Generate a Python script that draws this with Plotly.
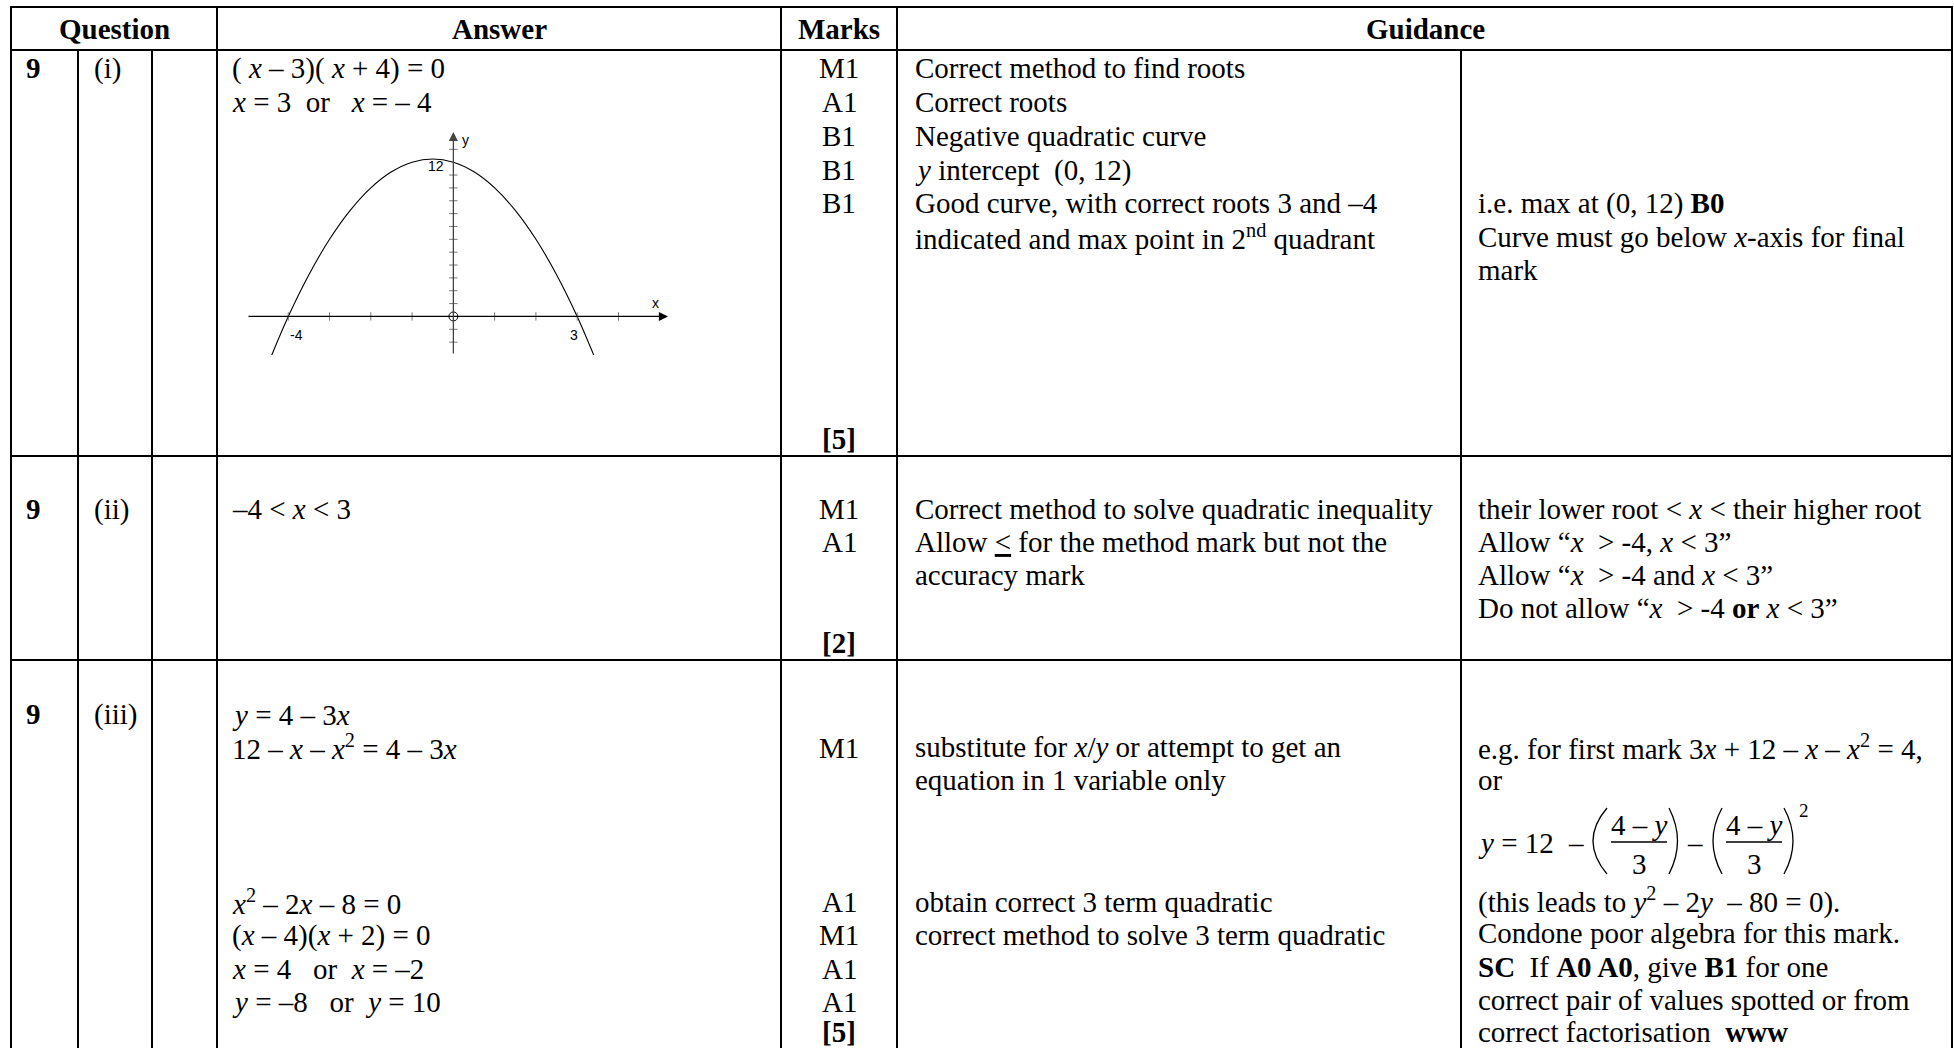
import plotly.graph_objects as go

W, H = 1954, 1048
SERIF = "Liberation Serif, Times New Roman, serif"
SANS = "Liberation Sans, Arial, sans-serif"
FS = 29

# ---- data: the sketch of y = 12 - x - x^2
curve_x = [-4.4, -4, -3.5, -3, -2.5, -2, -1.5, -1, -0.5, 0, 0.5, 1, 1.5, 2, 2.5, 3, 3.4]
curve_y = [-3, 0, 3.25, 6, 8.25, 10, 11.25, 12, 12.25, 12, 11.25, 10, 8.25, 6, 3.25, 0, -3]
x_ticks = [-4, -3, -2, -1, 1, 2, 3, 4]
y_ticks = [-2, -1, 1, 2, 3, 4, 5, 6, 7, 8, 9, 10, 11, 13]
x_range = [-5.0, 5.2]
y_range = [-3.0, 14.35]

# ---- data: table text
headers = ["Question", "Answer", "Marks", "Guidance"]
question = ["9", "9", "9"]
parts = ["(i)", "(ii)", "(iii)"]
totals = ["[5]", "[2]", "[5]"]

answer_1 = ["( <i>x</i> – 3)( <i>x</i> + 4) = 0",
            "<i>x</i> = 3 \u00a0or \u00a0 <i>x</i> = – 4"]
marks_1 = ["M1", "A1", "B1", "B1", "B1"]
guide_1 = ["Correct method to find roots",
           "Correct roots",
           "Negative quadratic curve",
           "<i>y</i> intercept \u00a0(0, 12)",
           "Good curve, with correct roots 3 and –4",
           "indicated and max point in 2<sup>nd</sup> quadrant"]
note_1 = ["i.e. max at (0, 12) <b>B0</b>",
          "Curve must go below <i>x</i>-axis for final",
          "mark"]

answer_2 = ["–4 &lt; <i>x</i> &lt; 3"]
marks_2 = ["M1", "A1"]
guide_2 = ["Correct method to solve quadratic inequality",
           "Allow <u>&lt;</u> for the method mark but not the",
           "accuracy mark"]
note_2 = ["their lower root &lt; <i>x</i> &lt; their higher root",
          "Allow “<i>x</i> \u00a0&gt; -4, <i>x</i> &lt; 3”",
          "Allow “<i>x</i> \u00a0&gt; -4 and <i>x</i> &lt; 3”",
          "Do not allow “<i>x</i> \u00a0&gt; -4 <b>or</b> <i>x</i> &lt; 3”"]

answer_3 = ["<i>y</i> = 4 – 3<i>x</i>",
            "12 – <i>x</i> – <i>x</i><sup>2</sup> = 4 – 3<i>x</i>",
            "<i>x</i><sup>2</sup> – 2<i>x</i> – 8 = 0",
            "(<i>x</i> – 4)(<i>x</i> + 2) = 0",
            "<i>x</i> = 4 \u00a0 or \u00a0<i>x</i> = –2",
            "<i>y</i> = –8 \u00a0 or \u00a0<i>y</i> = 10"]
marks_3 = ["M1", "A1", "M1", "A1", "A1"]
guide_3 = ["substitute for <i>x</i>/<i>y</i> or attempt to get an",
           "equation in 1 variable only",
           "obtain correct 3 term quadratic",
           "correct method to solve 3 term quadratic"]
note_3 = ["e.g. for first mark 3<i>x</i> + 12 – <i>x</i> – <i>x</i><sup>2</sup> = 4,",
          "or",
          "(this leads to <i>y</i><sup>2</sup> – 2<i>y</i> \u00a0– 80 = 0).",
          "Condone poor algebra for this mark.",
          "<b>SC</b> \u00a0If <b>A0 A0</b>, give <b>B1</b> for one",
          "correct pair of values spotted or from",
          "correct factorisation \u00a0<b>www</b>"]
frac_lead = "<i>y</i> = 12"
frac_num = "4 – <i>y</i>"
frac_den = "3"

# ---- layout positions (pixels in the page)
col_lines = [11, 78, 152, 217, 781, 897, 1461, 1952]
row_lines = [7, 50, 456, 660]
x_q, x_part, x_ans, x_marks, x_guide, x_note = 24, 92, 230, 839, 913, 1476
dx = 14  # shift of the bracketed fraction group

fig = go.Figure()

# the little graph in the Answer cell
fig.add_trace(go.Scatter(x=curve_x, y=curve_y, mode="lines", line_shape="spline",
                         line=dict(color="black", width=1.1), xaxis="x", yaxis="y",
                         hoverinfo="skip"))
fig.add_trace(go.Scatter(x=x_ticks, y=[0] * len(x_ticks), mode="markers",
                         marker=dict(symbol="line-ns-open", size=6, color="#777",
                                     line=dict(color="#777", width=1)),
                         xaxis="x", yaxis="y", hoverinfo="skip"))
fig.add_trace(go.Scatter(x=[0] * len(y_ticks), y=y_ticks, mode="markers",
                         marker=dict(symbol="line-ew-open", size=6, color="#777",
                                     line=dict(color="#777", width=1)),
                         xaxis="x", yaxis="y", hoverinfo="skip"))
fig.add_trace(go.Scatter(x=[0], y=[0], mode="markers",
                         marker=dict(symbol="circle-open", size=9, color="black", line=dict(width=1)),
                         xaxis="x", yaxis="y", hoverinfo="skip"))
# dummy trace so the pixel axes exist
fig.add_trace(go.Scatter(x=[0, W], y=[0, H], mode="markers", marker=dict(opacity=0),
                         xaxis="x2", yaxis="y2", hoverinfo="skip"))

ann = []


def txt(x, y, s, anchor="left", size=FS, family=SERIF):
    ann.append(dict(x=x, y=y, xref="x2", yref="y2", text=s, showarrow=False,
                    xanchor=anchor, yanchor="middle",
                    font=dict(family=family, size=size, color="black")))


def lines(x, ys, items, anchor="left"):
    for y, s in zip(ys, items):
        txt(x, y, s, anchor)


# header
for cx, h in zip([114, 499, 839, 1425], headers):
    txt(cx, 29, "<b>" + h + "</b>", "center")

row_y = [68, 509, 714]
for y, q, p in zip(row_y, question, parts):
    txt(x_q, y, "<b>" + q + "</b>")
    txt(x_part, y, p)

# row (i)
lines(x_ans, [68, 102], answer_1)
lines(x_marks, [68, 102, 136, 170, 203], marks_1, "center")
lines(x_guide, [68, 102, 136, 170, 203, 237], guide_1)
lines(x_note, [203, 237, 270], note_1)
# row (ii)
lines(x_ans, [509], answer_2)
lines(x_marks, [509, 542], marks_2, "center")
lines(x_guide, [509, 542, 575], guide_2)
lines(x_note, [509, 542, 575, 608], note_2)
# row (iii)
lines(x_ans, [715, 747, 902, 935, 969, 1002], answer_3)
lines(x_marks, [748, 902, 935, 969, 1002], marks_3, "center")
lines(x_guide, [747, 780, 902, 935], guide_3)
lines(x_note, [747, 780, 900, 933, 967, 1000, 1032], note_3)
for y, t in zip([439, 643, 1032], totals):
    txt(x_marks, y, "<b>" + t + "</b>", "center")

# y = 12 - ((4-y)/3) - ((4-y)/3)^2
txt(x_note, 843, frac_lead)
txt(1562 + dx, 843, "–", "center")
txt(1681 + dx, 843, "–", "center")
for cx in [1625, 1740]:
    txt(cx + dx, 825, frac_num, "center")
    txt(cx + dx, 864, frac_den, "center")
txt(1790 + dx, 810, "2", "center", size=19)

# graph labels and axis arrows
for x, y, s in [(-0.42, 11.7, "12"), (-3.8, -1.45, "-4"), (2.93, -1.45, "3"),
                (0.3, 13.7, "y"), (4.9, 1.05, "x")]:
    ann.append(dict(x=x, y=y, xref="x", yref="y", text=s, showarrow=False,
                    font=dict(family=SANS, size=14, color="black")))
ann.append(dict(x=x_range[1], y=0, ax=x_range[0], ay=0, xref="x", yref="y",
                axref="x", ayref="y", text="", showarrow=True, arrowhead=2,
                arrowsize=1.4, arrowwidth=1.3, arrowcolor="black"))
ann.append(dict(x=0, y=y_range[1], ax=0, ay=y_range[0], xref="x", yref="y",
                axref="x", ayref="y", text="", showarrow=True, arrowhead=2,
                arrowsize=1.4, arrowwidth=1.3, arrowcolor="#444"))

shapes = []
for x in col_lines:
    y0 = 50 if x in (78, 152, 1461) else 7
    shapes.append(dict(type="line", xref="x2", yref="y2", x0=x, x1=x, y0=y0, y1=H,
                       line=dict(color="black", width=2)))
for y in row_lines:
    shapes.append(dict(type="line", xref="x2", yref="y2", x0=col_lines[0] - 1, x1=col_lines[-1] + 1,
                       y0=y, y1=y, line=dict(color="black", width=2)))
# fraction bars and brackets
for x0, x1 in [(1597, 1653), (1712, 1768)]:
    shapes.append(dict(type="line", xref="x2", yref="y2", x0=x0 + dx, x1=x1 + dx, y0=842, y1=842,
                       line=dict(color="black", width=1.3)))
for xe, xc in [(1593, 1565), (1655, 1672), (1708, 1690), (1770, 1788)]:
    shapes.append(dict(type="path", xref="x2", yref="y2",
                       path=f"M {xe + dx},808 Q {xc + dx},841 {xe + dx},874",
                       line=dict(color="black", width=1.3)))

x0p, x1p = 247 / W, 668 / W
y0p, y1p = 1 - 355 / H, 1 - 132 / H
fig.update_layout(
    width=W, height=H, margin=dict(l=0, r=0, t=0, b=0),
    paper_bgcolor="white", plot_bgcolor="rgba(0,0,0,0)", showlegend=False,
    xaxis=dict(domain=[x0p, x1p], range=x_range, visible=False, fixedrange=True),
    yaxis=dict(domain=[y0p, y1p], range=y_range, visible=False, fixedrange=True),
    xaxis2=dict(domain=[0, 1], range=[0, W], visible=False, fixedrange=True, anchor="y2"),
    yaxis2=dict(domain=[0, 1], range=[H, 0], visible=False, fixedrange=True, anchor="x2"),
    annotations=ann, shapes=shapes,
)

fig.write_html("out.html", config={"displayModeBar": False},
               post_script="document.body.style.margin='0';document.body.style.overflow='hidden';")
